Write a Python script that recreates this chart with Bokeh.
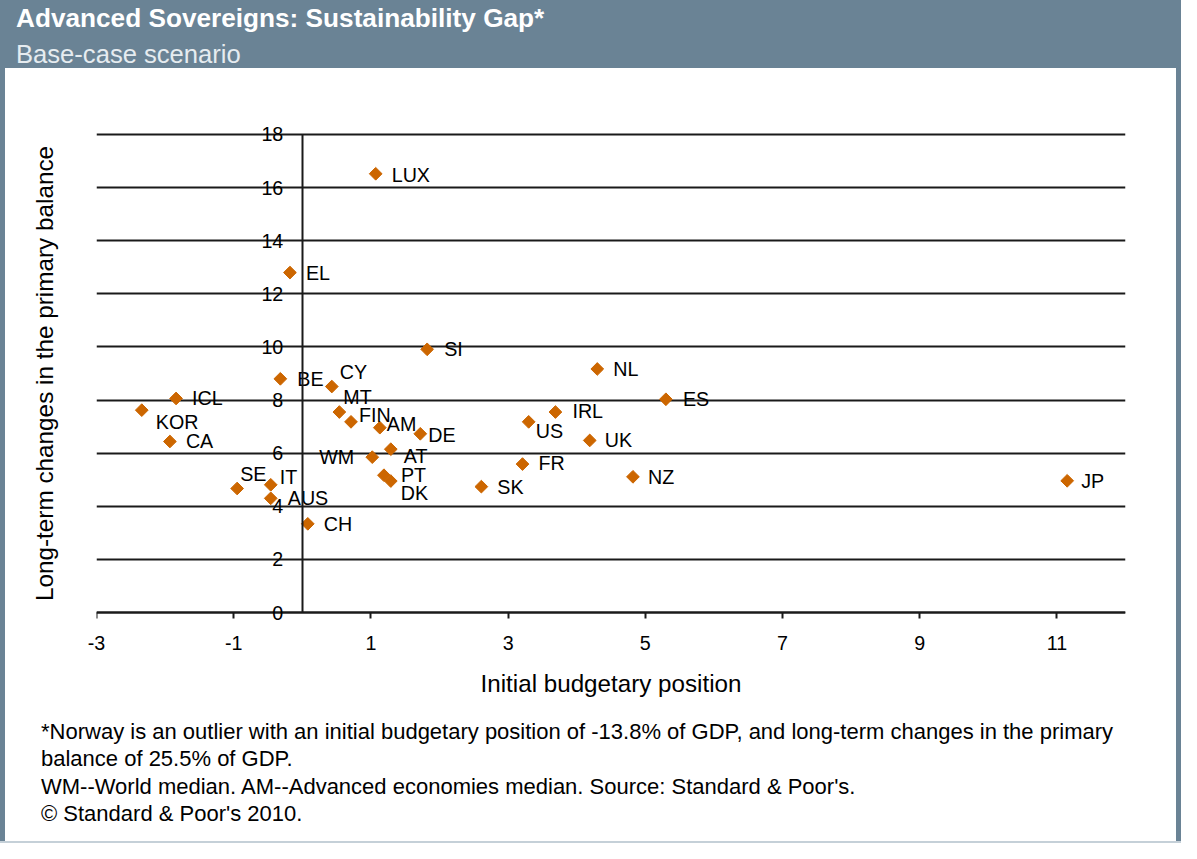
import math
from bokeh.plotting import figure
from bokeh.models import Div, FixedTicker, Range1d, ColumnDataSource, LinearAxis
from bokeh.layouts import column, row
from bokeh.embed import file_html
from bokeh.resources import INLINE
from bokeh.core.properties import value

# ---------------- data ----------------
countries = ["LUX", "EL", "SI", "NL", "ES", "ICL", "KOR", "CA", "BE", "CY",
             "MT", "FIN", "AM", "DE", "AT", "WM", "PT", "DK", "US", "IRL",
             "UK", "FR", "SK", "NZ", "JP", "SE", "IT", "AUS", "CH"]
initial_position = [1.07, -0.18, 1.82, 4.30, 5.30, -1.84, -2.34, -1.93, -0.32, 0.43,
                    0.54, 0.71, 1.13, 1.72, 1.29, 1.02, 1.19, 1.29, 3.30, 3.69,
                    4.19, 3.21, 2.61, 4.82, 11.15, -0.95, -0.46, -0.46, 0.08]
long_term_change = [16.52, 12.80, 9.91, 9.17, 8.03, 8.06, 7.62, 6.44, 8.80, 8.51,
                    7.55, 7.18, 6.96, 6.73, 6.15, 5.85, 5.17, 4.95, 7.18, 7.55,
                    6.48, 5.59, 4.74, 5.11, 4.96, 4.67, 4.81, 4.30, 3.34]
x_min, x_max = -3, 12
x_ticks = [-3, -1, 1, 3, 5, 7, 9, 11]
x_tick_labels = ["-3", "-1", "1", "3", "5", "7", "9", "11"]
y_ticks = [0, 2, 4, 6, 8, 10, 12, 14, 16, 18]
y_tick_labels = ["0", "2", "4", "6", "8", "10", "12", "14", "16", "18"]

title_text = "Advanced Sovereigns: Sustainability Gap*"
subtitle_text = "Base-case scenario"
x_title = "Initial budgetary position"
y_title = "Long-term changes in the primary balance"
notes = [
    "*Norway is an outlier with an initial budgetary position of -13.8% of GDP, and long-term changes in the primary",
    "balance of 25.5% of GDP.",
    "WM--World median. AM--Advanced economies median. Source: Standard &amp; Poor's.",
    "&copy; Standard &amp; Poor's 2010.",
]

# ---------------- label placement (style, pixels) ----------------
label_offsets = {
    "LUX": (16, 1), "EL": (16, 0), "SI": (17, 0), "NL": (16, 0), "ES": (17, 0),
    "IRL": (17, -1), "US": (7, 9), "UK": (15, 0), "FR": (16, -1), "SK": (16, 0),
    "NZ": (15, 0), "JP": (14, 0), "DE": (8, 1), "AM": (7, -4), "FIN": (8, -7),
    "MT": (4, -15), "CY": (8, -15), "BE": (17, 0), "ICL": (16, 0), "KOR": (14, 12),
    "CA": (16, 0), "WM": (-18, 0), "AT": (13, 7), "PT": (17, 0), "DK": (10, 12),
    "SE": (3, -15), "IT": (9, -8), "AUS": (17, 0), "CH": (16, 0),
}
right_aligned = {"WM"}

HEADER = "#6a8395"
MARK = "#cc6600"
LINE = "#1a1a1a"
FONT = "Liberation Sans"

# ---------------- figure ----------------
# a little padding above 18 and below 0 keeps the crossing-axis labels unclipped
p = figure(width=1171, height=649,
           x_range=Range1d(x_min, x_max), y_range=Range1d(-0.45, 18.45),
           output_backend="svg", toolbar_location=None,
           min_border_left=91, min_border_right=51, min_border_top=54, min_border_bottom=93,
           background_fill_color="white", border_fill_color="white",
           outline_line_color=None, margin=0)

p.xgrid.visible = False
p.ygrid.ticker = FixedTicker(ticks=y_ticks)
p.ygrid.grid_line_color = LINE
p.ygrid.grid_line_width = 2

# bottom axis: tick labels and title only
xa = p.xaxis[0]
xa.ticker = FixedTicker(ticks=x_ticks)
xa.major_label_overrides = {t: s for t, s in zip(x_ticks, x_tick_labels)}
xa.axis_line_color = None
xa.major_tick_in = 0
xa.major_tick_out = 0
xa.minor_tick_in = 0
xa.minor_tick_out = 0
xa.major_label_text_font = FONT
xa.major_label_text_font_size = "19.7px"
xa.major_label_text_color = "black"
xa.major_label_standoff = 11
xa.axis_label = x_title
xa.axis_label_text_font = FONT
xa.axis_label_text_font_size = "24.2px"
xa.axis_label_text_font_style = "normal"
xa.axis_label_text_color = "black"
xa.axis_label_standoff = 17

# horizontal axis line with tick marks at y = 0
xcross = LinearAxis(fixed_location=0, bounds=(x_min, x_max),
                    ticker=FixedTicker(ticks=x_ticks),
                    axis_line_color=LINE, axis_line_width=2,
                    major_tick_line_color=LINE, major_tick_line_width=2,
                    major_tick_in=0, major_tick_out=6, minor_tick_in=0, minor_tick_out=0,
                    major_label_text_alpha=0)
p.add_layout(xcross, "below")

# outer left axis: only carries the title
ya = p.yaxis[0]
ya.ticker = FixedTicker(ticks=[])
ya.axis_line_color = None
ya.major_tick_out = 0
ya.major_tick_in = 0
ya.minor_tick_out = 0
ya.minor_tick_in = 0
ya.axis_label = y_title
ya.axis_label_text_font = FONT
ya.axis_label_text_font_size = "24.3px"
ya.axis_label_text_font_style = "normal"
ya.axis_label_text_color = "black"
ya.axis_label_standoff = 39

# value axis crossing at x = 0
ycross = LinearAxis(fixed_location=0, bounds=(y_ticks[0], y_ticks[-1]),
                    ticker=FixedTicker(ticks=y_ticks),
                    major_label_overrides={t: s for t, s in zip(y_ticks, y_tick_labels)},
                    axis_line_color=LINE, axis_line_width=2,
                    major_tick_in=0, major_tick_out=0, minor_tick_in=0, minor_tick_out=0,
                    major_label_standoff=19, major_label_text_font=FONT,
                    major_label_text_font_size="19.7px", major_label_text_color="black")
p.add_layout(ycross, "left")

# points
src = ColumnDataSource(dict(x=initial_position, y=long_term_change, name=countries))
p.scatter("x", "y", source=src, marker="square", size=9, angle=math.pi / 4,
          fill_color=MARK, line_color=MARK, line_width=1)

# labels
def label_source(names):
    idx = [countries.index(n) for n in names]
    return ColumnDataSource(dict(
        x=[initial_position[i] for i in idx],
        y=[long_term_change[i] for i in idx],
        text=[countries[i] for i in idx],
        dx=[label_offsets[countries[i]][0] for i in idx],
        dy=[label_offsets[countries[i]][1] for i in idx],
    ))

left_src = label_source([c for c in countries if c not in right_aligned])
right_src = label_source([c for c in countries if c in right_aligned])
for s, align in ((left_src, "left"), (right_src, "right")):
    p.text("x", "y", text="text", x_offset="dx", y_offset="dy", source=s,
           text_align=align, text_baseline="middle", text_font=value(FONT),
           text_font_size="19.7px", text_color="black")

# ---------------- header, footer, frame ----------------
header = Div(
    text=(f'<div style="padding-left:16px;padding-top:4px;font-family:\'{FONT}\',Arial,sans-serif;white-space:nowrap;">'
          f'<div style="font-size:26.2px;font-weight:bold;line-height:28px;color:#ffffff;">{title_text}</div>'
          f'<div style="font-size:25.6px;line-height:28px;margin-top:8px;color:#e6ecf0;">{subtitle_text}</div>'
          '</div>'),
    width=1181, height=68, margin=0, styles={"background-color": HEADER})

foot = Div(
    text=(f'<div style="padding-left:36px;font-family:\'{FONT}\',Arial,sans-serif;font-size:22px;'
          'line-height:27.4px;padding-top:1px;color:#000000;white-space:nowrap;">' + "<br>".join(notes) + '</div>'),
    width=1171, height=124, margin=0, styles={"background-color": "white"})

strip_l = Div(text="", width=5, height=773, margin=0, styles={"background-color": HEADER})
strip_r = Div(text="", width=5, height=773, margin=0, styles={"background-color": HEADER})
bottom = Div(text="", width=1181, height=2, margin=0, styles={"background-color": "#c5d0d8"})

layout = column(header,
                row(strip_l, column(p, foot, spacing=0, margin=0), strip_r, spacing=0, margin=0),
                bottom, spacing=0, margin=0)

open("out.html", "w").write(file_html(layout, INLINE))
